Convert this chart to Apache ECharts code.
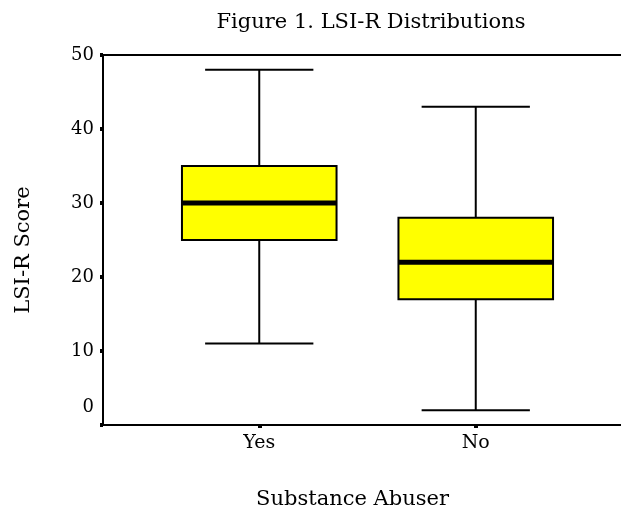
<!DOCTYPE html>
<html>
<head>
<meta charset="utf-8">
<script src="https://cdn.jsdelivr.net/npm/echarts@6/dist/echarts.min.js"></script>
<style>
  html, body { margin: 0; padding: 0; background: #fff; }
  #chart { width: 621px; height: 523px; }
</style>
</head>
<body>
<div id="chart"></div>
<script>
// LSI-R score distribution by substance-abuse group
const groups = ['Yes', 'No'];
const whiskerLow = [11, 2];
const quartile1 = [25, 17];
const medians = [30, 22];
const quartile3 = [35, 28];
const whiskerHigh = [48, 43];

const FONT = 'DejaVu Serif';

const boxData = groups.map((g, i) => [i, whiskerLow[i], quartile1[i], medians[i], quartile3[i], whiskerHigh[i]]);

// Box, whiskers with narrower caps, and a heavy median bar
function renderBox(params, api) {
  const idx = api.value(0);
  const band = api.size([1, 0])[0];
  const pLow = api.coord([idx, api.value(1)]);
  const pQ1 = api.coord([idx, api.value(2)]);
  const pMed = api.coord([idx, api.value(3)]);
  const pQ3 = api.coord([idx, api.value(4)]);
  const pHigh = api.coord([idx, api.value(5)]);
  const cx = pMed[0];
  const boxHalf = band * 0.357;
  const capHalf = band * 0.25;
  const lineStyle = { stroke: '#000', lineWidth: 2 };
  return {
    type: 'group',
    children: [
      { type: 'line', shape: { x1: cx, y1: pHigh[1], x2: cx, y2: pQ3[1] }, style: lineStyle },
      { type: 'line', shape: { x1: cx, y1: pQ1[1], x2: cx, y2: pLow[1] }, style: lineStyle },
      { type: 'line', shape: { x1: cx - capHalf, y1: pHigh[1], x2: cx + capHalf, y2: pHigh[1] }, style: lineStyle },
      { type: 'line', shape: { x1: cx - capHalf, y1: pLow[1], x2: cx + capHalf, y2: pLow[1] }, style: lineStyle },
      { type: 'rect', shape: { x: cx - boxHalf, y: pQ3[1], width: boxHalf * 2, height: pQ1[1] - pQ3[1] },
        style: { fill: '#ffff00', stroke: '#000', lineWidth: 2 } },
      { type: 'line', shape: { x1: cx - boxHalf, y1: pMed[1], x2: cx + boxHalf, y2: pMed[1] },
        style: { stroke: '#000', lineWidth: 5 } }
    ]
  };
}

const chart = echarts.init(document.getElementById('chart'), null, { renderer: 'canvas' });
chart.setOption({
  backgroundColor: '#fff',
  animation: false,
  title: {
    text: 'Figure 1. LSI-R Distributions',
    left: 366,
    top: 7,
    textAlign: 'center',
    textStyle: { fontFamily: FONT, fontSize: 21, fontWeight: 'normal', color: '#000' }
  },
  grid: [
    { left: 103, right: 0, top: 55, bottom: 98 },
    { left: 151, right: 37, top: 55, bottom: 98 }
  ],
  xAxis: [
    { type: 'value', gridIndex: 0, min: 0, max: 1, position: 'bottom',
      axisLine: { show: true, lineStyle: { color: '#000', width: 2 } },
      axisTick: { show: false }, axisLabel: { show: false }, splitLine: { show: false } },
    { type: 'value', gridIndex: 0, min: 0, max: 1, position: 'top',
      axisLine: { show: true, lineStyle: { color: '#000', width: 2 } },
      axisTick: { show: false }, axisLabel: { show: false }, splitLine: { show: false } },
    { type: 'category', gridIndex: 1, data: groups, position: 'bottom',
      axisLine: { show: false },
      axisTick: { show: true, alignWithLabel: true, length: 3, lineStyle: { color: '#000', width: 4 } },
      axisLabel: { margin: 9, fontFamily: FONT, fontSize: 19, color: '#000' },
      name: 'Substance Abuser', nameLocation: 'middle', nameGap: 64,
      nameTextStyle: { fontFamily: FONT, fontSize: 21, color: '#000', padding: [0, 30, 0, 0] } }
  ],
  yAxis: [
    { type: 'value', gridIndex: 0, min: 0, max: 50, interval: 10,
      axisLine: { show: true, lineStyle: { color: '#000', width: 2 } },
      axisTick: { show: true, length: 3, lineStyle: { color: '#000', width: 4 } },
      axisLabel: { margin: 9, fontFamily: FONT, fontSize: 18, color: '#000',
        formatter: v => (v === 0 ? '0\n\n' : String(v)) },
      splitLine: { show: false },
      name: 'LSI-R Score', nameLocation: 'middle', nameGap: 69, nameRotate: 90,
      nameTextStyle: { fontFamily: FONT, fontSize: 21, color: '#000', padding: [0, 20, 0, 0] } },
    { type: 'value', gridIndex: 1, min: 0, max: 50, interval: 10, show: false }
  ],
  series: [
    { type: 'custom', xAxisIndex: 2, yAxisIndex: 1, renderItem: renderBox,
      encode: { x: 0, y: [1, 2, 3, 4, 5] }, data: boxData, z: 5 }
  ]
});
</script>
</body>
</html>
